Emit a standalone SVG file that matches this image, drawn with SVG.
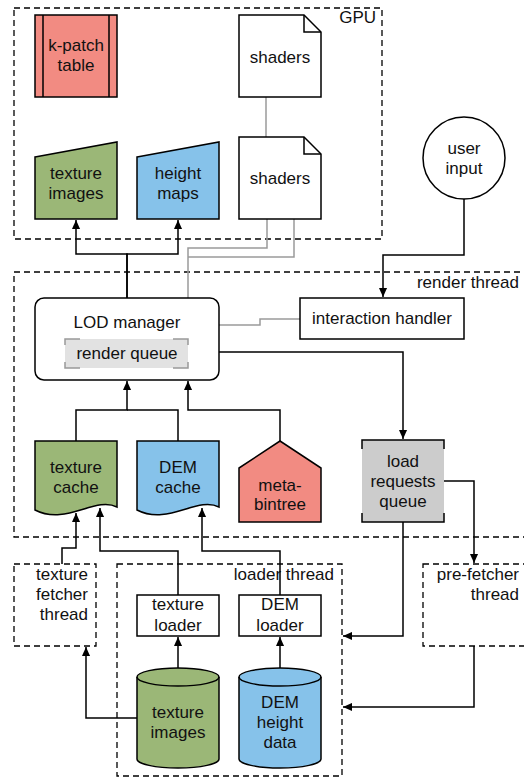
<svg xmlns="http://www.w3.org/2000/svg" width="524" height="778" viewBox="0 0 524 778">
<defs>
<marker id="arr" viewBox="0 0 10 10" refX="10" refY="5" markerWidth="10" markerHeight="9" markerUnits="userSpaceOnUse" orient="auto"><path d="M0,0.5 L10,5 L0,9.5 Z" fill="#000"/></marker>
<style>
text{font-family:"Liberation Sans",Arial,sans-serif;font-size:17px;fill:#111;text-anchor:middle}
.lbl{text-anchor:end}
.grp{fill:none;stroke:#000;stroke-width:1.3;stroke-dasharray:6,4}
.box{stroke:#000;stroke-width:1.5}
.c{fill:none;stroke:#000;stroke-width:1.5}
.g{fill:none;stroke:#9a9a9a;stroke-width:1.5}
.red{fill:#F28B82}
.grn{fill:#9BB777}
.blu{fill:#86C2EA}
</style>
</defs>
<g id="groups">
<rect class="grp" x="14" y="8" width="368" height="231"/>
<text class="lbl" x="376" y="23">GPU</text>
<rect class="grp" x="14" y="272" width="520" height="265"/>
<text class="lbl" x="519" y="288">render thread</text>
<rect class="grp" x="14" y="564" width="82" height="82"/>
<text class="lbl" x="88" y="580">texture</text>
<text class="lbl" x="88" y="600">fetcher</text>
<text class="lbl" x="88" y="620">thread</text>
<rect class="grp" x="117" y="564" width="225" height="212"/>
<text class="lbl" x="334" y="580">loader thread</text>
<rect class="grp" x="423" y="564" width="110" height="82"/>
<text class="lbl" x="519" y="580">pre-fetcher</text>
<text class="lbl" x="519" y="600">thread</text>
</g>
<g id="connectors">
<path class="c" d="M127,298 V254 H76 V220" marker-end="url(#arr)"/>
<path class="c" d="M127,298 V254 H178 V220" marker-end="url(#arr)"/>
<path class="g" d="M266,97 V137"/>
<path class="g" d="M267,219 V248 H188 V298"/>
<path class="g" d="M294,219 V257 H188"/>
<path class="g" d="M219,325 H260 V319 H300"/>
<path class="c" d="M464,199 V255 H383 V297" marker-end="url(#arr)"/>
<path class="c" d="M219,352 H403 V439" marker-end="url(#arr)"/>
<path class="c" d="M76,441 V410 H127 V381" marker-end="url(#arr)"/>
<path class="c" d="M178,441 V410 H127"/>
<path class="c" d="M280,441 V410 H188 V381" marker-end="url(#arr)"/>
<path class="c" d="M444,481 H474 V563" marker-end="url(#arr)"/>
<path class="c" d="M403,522 V636 H343" marker-end="url(#arr)"/>
<path class="c" d="M474,646 V707 H343" marker-end="url(#arr)"/>
<path class="c" d="M62,564 V548 H76 V513" marker-end="url(#arr)"/>
<path class="c" d="M178,595 V551 H100 V508" marker-end="url(#arr)"/>
<path class="c" d="M280,595 V551 H202 V508" marker-end="url(#arr)"/>
<path class="c" d="M178,668 V637" marker-end="url(#arr)"/>
<path class="c" d="M280,668 V637" marker-end="url(#arr)"/>
<path class="c" d="M137,718 H86 V647" marker-end="url(#arr)"/>
</g>
<g id="kpatch">
<rect class="box red" x="35" y="15" width="82" height="82"/>
<path class="c" d="M43,15 V97 M109,15 V97"/>
<text x="76" y="51">k-patch</text>
<text x="76" y="71">table</text>
</g>
<g id="gpu-texture-images">
<path class="box grn" d="M35,157 L117,142 V219 H35 Z"/>
<text x="76" y="179">texture</text>
<text x="76" y="199">images</text>
</g>
<g id="height-maps">
<path class="box blu" d="M137,157 L219,142 V219 H137 Z"/>
<text x="178" y="179">height</text>
<text x="178" y="199">maps</text>
</g>
<g id="shaders1">
<path class="box" fill="#fff" d="M239,15 H304 L321,32 V97 H239 Z"/>
<path class="c" d="M304,15 V32 H321"/>
<text x="280" y="63">shaders</text>
</g>
<g id="shaders2">
<path class="box" fill="#fff" d="M239,137 H304 L321,154 V219 H239 Z"/>
<path class="c" d="M304,137 V154 H321"/>
<text x="280" y="184">shaders</text>
</g>
<g id="user-input">
<circle class="box" fill="#fff" cx="464" cy="158" r="41"/>
<text x="464" y="154">user</text>
<text x="464" y="174">input</text>
</g>
<g id="lod-manager">
<rect class="box" fill="#fff" x="35" y="298" width="184" height="82" rx="9"/>
<text x="127" y="328">LOD manager</text>
<rect x="65" y="339" width="123" height="29" fill="#E2E2E2"/>
<path fill="none" stroke="#999" stroke-width="1.5" d="M65,345 V339 H80 M173,339 H188 V345 M188,362 V368 H173 M80,368 H65 V362"/>
<text x="127" y="359">render queue</text>
</g>
<g id="interaction-handler">
<rect class="box" fill="#fff" x="300" y="298" width="164" height="41"/>
<text x="382" y="324">interaction handler</text>
</g>
<g id="texture-cache">
<path class="box grn" d="M35,441 H117 V507 C95,496 66,526 35,510 Z"/>
<text x="76" y="473">texture</text>
<text x="76" y="493">cache</text>
</g>
<g id="dem-cache">
<path class="box blu" d="M137,441 H219 V507 C197,496 168,526 137,510 Z"/>
<text x="178" y="473">DEM</text>
<text x="178" y="493">cache</text>
</g>
<g id="meta-bintree">
<path class="box red" d="M280,441 L321,468 V522 H239 V468 Z"/>
<text x="280" y="491">meta-</text>
<text x="280" y="510">bintree</text>
</g>
<g id="load-requests-queue">
<rect x="362" y="440" width="82" height="82" fill="#CCCCCC"/>
<path class="c" d="M362,449 V440 H444 V449 M444,513 V522 H362 V513"/>
<text x="403" y="467">load</text>
<text x="403" y="487">requests</text>
<text x="403" y="507">queue</text>
</g>
<g id="texture-loader">
<rect class="box" fill="#fff" x="137" y="595" width="82" height="41"/>
<text x="178" y="610">texture</text>
<text x="178" y="631">loader</text>
</g>
<g id="dem-loader">
<rect class="box" fill="#fff" x="239" y="595" width="82" height="41"/>
<text x="280" y="610">DEM</text>
<text x="280" y="631">loader</text>
</g>
<g id="texture-images-db">
<path class="box grn" d="M137,677 A41,9 0 0 1 219,677 V759 A41,9 0 0 1 137,759 Z"/>
<path class="c" d="M137,677 A41,9 0 0 0 219,677"/>
<text x="178" y="718">texture</text>
<text x="178" y="738">images</text>
</g>
<g id="dem-height-data">
<path class="box blu" d="M239,677 A41,9 0 0 1 321,677 V759 A41,9 0 0 1 239,759 Z"/>
<path class="c" d="M239,677 A41,9 0 0 0 321,677"/>
<text x="280" y="708">DEM</text>
<text x="280" y="728">height</text>
<text x="280" y="748">data</text>
</g>
</svg>
